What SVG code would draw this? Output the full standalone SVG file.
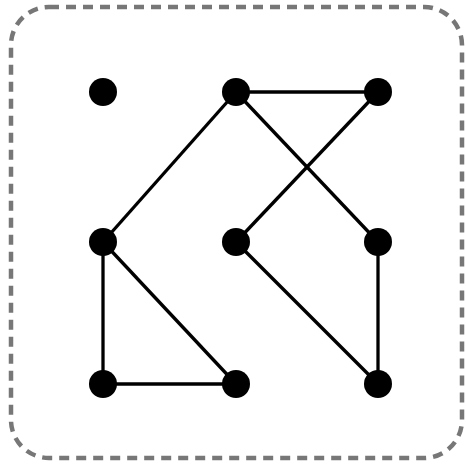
<svg xmlns="http://www.w3.org/2000/svg" width="466" height="468" viewBox="0 0 466 468">
<style>
.frame{fill:#fff;stroke:#777;stroke-width:4.5;stroke-dasharray:10 7}
.edge{stroke:#000;stroke-width:3.3;fill:none}
.node{fill:#000}
</style>
<rect class="frame" x="11" y="7" width="451" height="451" rx="38" ry="38"/>
<g id="edges">
<line class="edge" x1="236" y1="92" x2="378" y2="92"/>
<line class="edge" x1="236" y1="92" x2="103" y2="242"/>
<line class="edge" x1="236" y1="92" x2="378" y2="242"/>
<line class="edge" x1="378" y1="92" x2="236" y2="242"/>
<line class="edge" x1="236" y1="242" x2="378" y2="384"/>
<line class="edge" x1="378" y1="242" x2="378" y2="384"/>
<line class="edge" x1="103" y1="242" x2="103" y2="384"/>
<line class="edge" x1="103" y1="242" x2="236" y2="384"/>
<line class="edge" x1="103" y1="384" x2="236" y2="384"/>
</g>
<g id="n1"><circle class="node" cx="103" cy="92" r="14"/></g>
<g id="n2"><circle class="node" cx="236" cy="92" r="14"/></g>
<g id="n3"><circle class="node" cx="378" cy="92" r="14"/></g>
<g id="n4"><circle class="node" cx="103" cy="242" r="14"/></g>
<g id="n5"><circle class="node" cx="236" cy="242" r="14"/></g>
<g id="n6"><circle class="node" cx="378" cy="242" r="14"/></g>
<g id="n7"><circle class="node" cx="103" cy="384" r="14"/></g>
<g id="n8"><circle class="node" cx="236" cy="384" r="14"/></g>
<g id="n9"><circle class="node" cx="378" cy="384" r="14"/></g>
</svg>
